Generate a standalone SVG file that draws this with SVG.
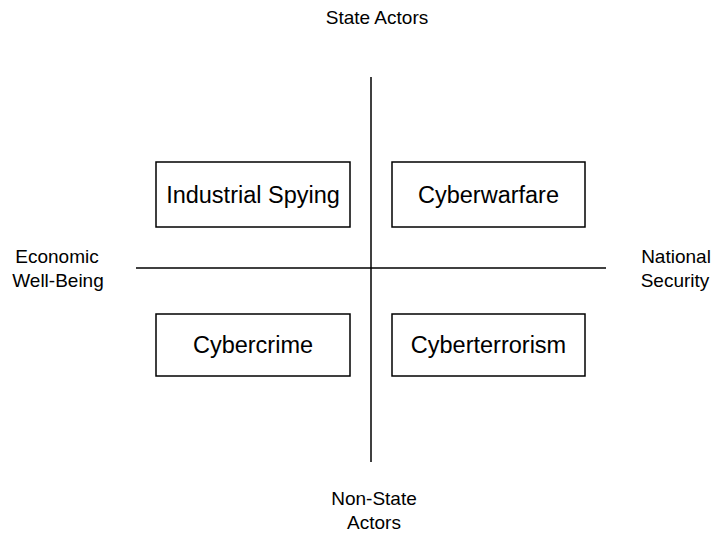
<svg xmlns="http://www.w3.org/2000/svg" width="714" height="541" viewBox="0 0 714 541">
<style>
.box{fill:#fff;stroke:#000;stroke-width:1.5}
.ax{stroke:#000;stroke-width:1.5}
.t{font-family:"Liberation Sans",Arial,sans-serif;font-size:23.5px;fill:#000;text-anchor:middle}
.a{font-family:"Liberation Sans",Arial,sans-serif;font-size:19px;fill:#000;text-anchor:middle}
</style>
<rect width="714" height="541" fill="#fff"/>
<g id="connectors">
<line class="ax" x1="371" y1="77" x2="371" y2="462"/>
<line class="ax" x1="136" y1="268" x2="606" y2="268"/>
</g>
<g id="industrial-spying"><rect class="box" x="156" y="162" width="194" height="65"/><text class="t" x="253" y="203">Industrial Spying</text></g>
<g id="cyberwarfare"><rect class="box" x="392" y="162" width="193" height="65"/><text class="t" x="488.5" y="203">Cyberwarfare</text></g>
<g id="cybercrime"><rect class="box" x="156" y="314" width="194" height="62"/><text class="t" x="253" y="353">Cybercrime</text></g>
<g id="cyberterrorism"><rect class="box" x="392" y="314" width="193" height="62"/><text class="t" x="488.5" y="353">Cyberterrorism</text></g>
<g id="state-actors"><text class="a" x="377" y="24">State Actors</text></g>
<g id="non-state-actors"><text class="a" x="374" y="505">Non-State</text><text class="a" x="374" y="529">Actors</text></g>
<g id="economic"><text class="a" x="57" y="263">Economic</text><text class="a" x="58" y="287">Well-Being</text></g>
<g id="national"><text class="a" x="676" y="263">National</text><text class="a" x="675" y="287">Security</text></g>
</svg>
